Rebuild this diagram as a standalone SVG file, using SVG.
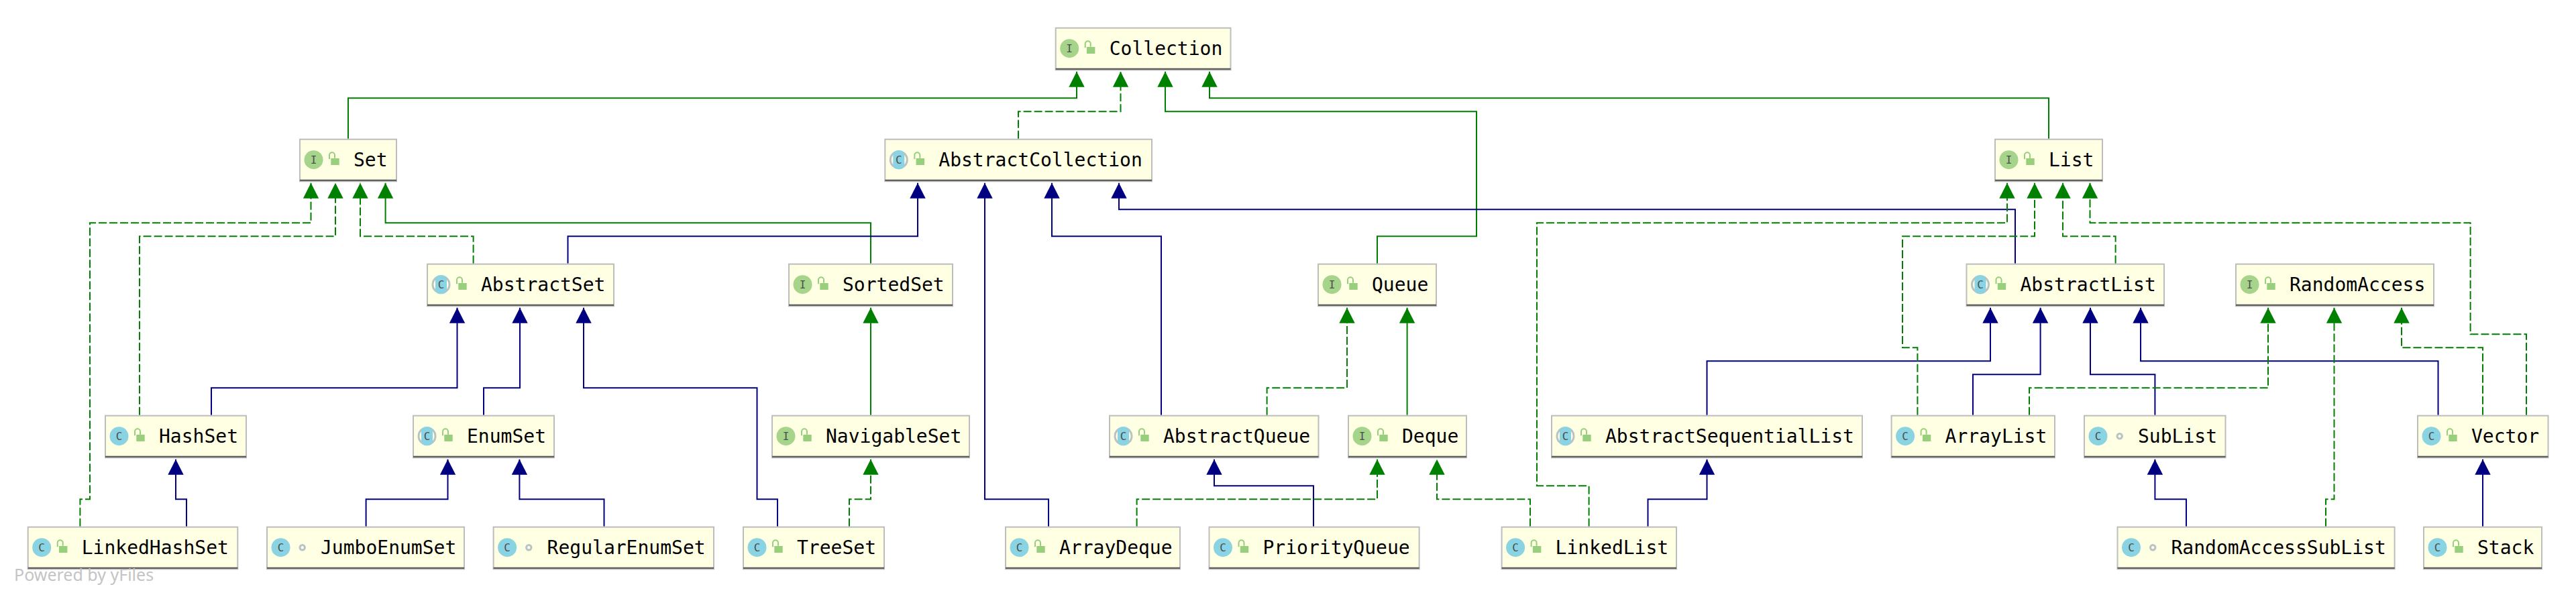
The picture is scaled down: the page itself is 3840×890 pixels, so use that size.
<svg xmlns="http://www.w3.org/2000/svg" width="3840" height="890" viewBox="0 0 3840 890">
<style>
.bg{fill:#fff}
.box{fill:#ffffe4;stroke:#bdbdbd;stroke-width:2}
.bar{fill:#5a5a5a}
.name{font:28px "DejaVu Sans Mono","Liberation Mono",monospace;fill:#000}
.ico{font:16px "DejaVu Sans Mono","Liberation Mono",monospace;fill:#4a4f52;text-anchor:middle}
.ci{fill:#a5d48a}
.cc{fill:#8ad3e3}
.ring{fill:#ffffe4;stroke:#b9c3c6;stroke-width:3}
.lock{fill:#97cf7d}
.shackle{fill:none;stroke:#97cf7d;stroke-width:2}
.dot{fill:none;stroke:#b9c3c6;stroke-width:3}
.edge{fill:none;stroke-width:2}
.g{stroke:#008000;marker-end:url(#ag)}
.gd{stroke:#008000;stroke-dasharray:12 4;marker-end:url(#ag)}
.b{stroke:#000080;marker-end:url(#ab)}
.wm{font:25px "Noto Sans","DejaVu Sans",sans-serif;fill:#c4c4c4}
</style>
<defs>
<marker id="ag" markerUnits="userSpaceOnUse" markerWidth="24" markerHeight="24" viewBox="0 0 24 24" refX="23" refY="12" orient="auto"><path d="M0,0.3L23,12L0,23.7z" fill="#008000"/></marker>
<marker id="ab" markerUnits="userSpaceOnUse" markerWidth="24" markerHeight="24" viewBox="0 0 24 24" refX="23" refY="12" orient="auto"><path d="M0,0.3L23,12L0,23.7z" fill="#000080"/></marker>
<g id="lk"><path class="shackle" d="M45,30.5V24.5a4,4 0 0 1 8,0V29"/><rect class="lock" x="47.3" y="29.3" width="12.4" height="10"/></g>
<circle id="pk" class="dot" cx="53.7" cy="31.5" r="3.7"/>
<circle id="ci" class="ci" cx="21.5" cy="31.5" r="14"/>
<circle id="cc" class="cc" cx="21.5" cy="31.5" r="14"/>
<g id="ca"><circle class="ring" cx="21.5" cy="31.5" r="12.5"/><rect class="cc" x="13" y="17.5" width="17" height="28" rx="7"/></g>
</defs>
<rect class="bg" width="3840" height="890"/>
<g id="connectors" class="edge">
<path class="edge g" d="M519,206.7V146.3H1605V106.8"/>
<path class="edge gd" d="M1518,206.7V166.3H1670.5V106.8"/>
<path class="edge g" d="M2053,392.7V352.3H2201V166.3H1737V106.8"/>
<path class="edge g" d="M3054,206.7V146.3H1803V106.8"/>
<path class="edge gd" d="M119.4,784.7V744.3H134V332.3H463.5V272.8"/>
<path class="edge gd" d="M208,618.7V352.3H500V272.8"/>
<path class="edge gd" d="M705.6,392.7V352.3H537V272.8"/>
<path class="edge g" d="M1298,392.7V332.3H574.6V272.8"/>
<path class="edge b" d="M846.5,392.7V352.3H1368V272.8"/>
<path class="edge b" d="M1563,784.7V744.3H1468V272.8"/>
<path class="edge b" d="M1731,618.7V352.3H1568V272.8"/>
<path class="edge b" d="M3004,392.7V312.3H1668V272.8"/>
<path class="edge g" d="M1298,618.7V458.8"/>
<path class="edge gd" d="M1266,784.7V744.3H1298V684.8"/>
<path class="edge b" d="M1159,784.7V744.3H1128.5V578.3H870V458.8"/>
<path class="edge b" d="M315,618.7V578.3H681.5V458.8"/>
<path class="edge b" d="M721,618.7V578.3H775V458.8"/>
<path class="edge b" d="M278,784.7V744.3H262V684.8"/>
<path class="edge b" d="M545.6,784.7V744.3H667.5V684.8"/>
<path class="edge b" d="M900.5,784.7V744.3H774.4V684.8"/>
<path class="edge gd" d="M1888.6,618.7V578.3H2008V458.8"/>
<path class="edge g" d="M2097.6,618.7V458.8"/>
<path class="edge b" d="M1958,784.7V724.3H1810V684.8"/>
<path class="edge gd" d="M1694.6,784.7V744.3H2053V684.8"/>
<path class="edge gd" d="M2281,784.7V744.3H2142V684.8"/>
<path class="edge gd" d="M2368.6,784.7V724.3H2291V332.3H2992V272.8"/>
<path class="edge b" d="M2456.5,784.7V744.3H2544.5V684.8"/>
<path class="edge b" d="M2544.5,618.7V538.3H2967V458.8"/>
<path class="edge gd" d="M2858.4,618.7V518.3H2836V352.3H3033V272.8"/>
<path class="edge gd" d="M3153.6,392.7V352.3H3075V272.8"/>
<path class="edge gd" d="M3766,618.7V498.3H3682.6V332.3H3115.5V272.8"/>
<path class="edge b" d="M2941,618.7V558.3H3041.6V458.8"/>
<path class="edge b" d="M3212.4,618.7V558.3H3116V458.8"/>
<path class="edge b" d="M3634.5,618.7V538.3H3191V458.8"/>
<path class="edge gd" d="M3025,618.7V578.3H3381V458.8"/>
<path class="edge gd" d="M3467,784.7V744.3H3479.5V458.8"/>
<path class="edge gd" d="M3701,618.7V518.3H3580V458.8"/>
<path class="edge b" d="M3259,784.7V744.3H3212.4V684.8"/>
<path class="edge b" d="M3701,784.7V684.8"/>
</g>
<g id="Collection" transform="translate(1572.7,40.7)"><rect class="box" x="1" y="1" width="260.8" height="62.6"/><rect class="bar" x="1" y="61" width="260.8" height="2.2"/><use href="#ci"/><text class="ico" x="21.5" y="37.5">I</text><use href="#lk"/><text class="name" x="81" y="41.6">Collection</text></g>
<g id="Set" transform="translate(446,206.7)"><rect class="box" x="1" y="1" width="144" height="62.6"/><rect class="bar" x="1" y="61" width="144" height="2.2"/><use href="#ci"/><text class="ico" x="21.5" y="37.5">I</text><use href="#lk"/><text class="name" x="81" y="41.6">Set</text></g>
<g id="AbstractCollection" transform="translate(1318.3,206.7)"><rect class="box" x="1" y="1" width="397.7" height="62.6"/><rect class="bar" x="1" y="61" width="397.7" height="2.2"/><use href="#ca"/><text class="ico" x="21.5" y="37.5">C</text><use href="#lk"/><text class="name" x="81" y="41.6">AbstractCollection</text></g>
<g id="List" transform="translate(2973,206.7)"><rect class="box" x="1" y="1" width="160" height="62.6"/><rect class="bar" x="1" y="61" width="160" height="2.2"/><use href="#ci"/><text class="ico" x="21.5" y="37.5">I</text><use href="#lk"/><text class="name" x="81" y="41.6">List</text></g>
<g id="AbstractSet" transform="translate(636,392.7)"><rect class="box" x="1" y="1" width="278" height="62.6"/><rect class="bar" x="1" y="61" width="278" height="2.2"/><use href="#ca"/><text class="ico" x="21.5" y="37.5">C</text><use href="#lk"/><text class="name" x="81" y="41.6">AbstractSet</text></g>
<g id="SortedSet" transform="translate(1175,392.7)"><rect class="box" x="1" y="1" width="244" height="62.6"/><rect class="bar" x="1" y="61" width="244" height="2.2"/><use href="#ci"/><text class="ico" x="21.5" y="37.5">I</text><use href="#lk"/><text class="name" x="81" y="41.6">SortedSet</text></g>
<g id="Queue" transform="translate(1964,392.7)"><rect class="box" x="1" y="1" width="176" height="62.6"/><rect class="bar" x="1" y="61" width="176" height="2.2"/><use href="#ci"/><text class="ico" x="21.5" y="37.5">I</text><use href="#lk"/><text class="name" x="81" y="41.6">Queue</text></g>
<g id="AbstractList" transform="translate(2930.5,392.7)"><rect class="box" x="1" y="1" width="294.5" height="62.6"/><rect class="bar" x="1" y="61" width="294.5" height="2.2"/><use href="#ca"/><text class="ico" x="21.5" y="37.5">C</text><use href="#lk"/><text class="name" x="81" y="41.6">AbstractList</text></g>
<g id="RandomAccess" transform="translate(3332,392.7)"><rect class="box" x="1" y="1" width="295" height="62.6"/><rect class="bar" x="1" y="61" width="295" height="2.2"/><use href="#ci"/><text class="ico" x="21.5" y="37.5">I</text><use href="#lk"/><text class="name" x="81" y="41.6">RandomAccess</text></g>
<g id="HashSet" transform="translate(156,618.7)"><rect class="box" x="1" y="1" width="210" height="62.6"/><rect class="bar" x="1" y="61" width="210" height="2.2"/><use href="#cc"/><text class="ico" x="21.5" y="37.5">C</text><use href="#lk"/><text class="name" x="81" y="41.6">HashSet</text></g>
<g id="EnumSet" transform="translate(615,618.7)"><rect class="box" x="1" y="1" width="210" height="62.6"/><rect class="bar" x="1" y="61" width="210" height="2.2"/><use href="#ca"/><text class="ico" x="21.5" y="37.5">C</text><use href="#lk"/><text class="name" x="81" y="41.6">EnumSet</text></g>
<g id="NavigableSet" transform="translate(1150,618.7)"><rect class="box" x="1" y="1" width="294" height="62.6"/><rect class="bar" x="1" y="61" width="294" height="2.2"/><use href="#ci"/><text class="ico" x="21.5" y="37.5">I</text><use href="#lk"/><text class="name" x="81" y="41.6">NavigableSet</text></g>
<g id="AbstractQueue" transform="translate(1653,618.7)"><rect class="box" x="1" y="1" width="311.5" height="62.6"/><rect class="bar" x="1" y="61" width="311.5" height="2.2"/><use href="#ca"/><text class="ico" x="21.5" y="37.5">C</text><use href="#lk"/><text class="name" x="81" y="41.6">AbstractQueue</text></g>
<g id="Deque" transform="translate(2009,618.7)"><rect class="box" x="1" y="1" width="176" height="62.6"/><rect class="bar" x="1" y="61" width="176" height="2.2"/><use href="#ci"/><text class="ico" x="21.5" y="37.5">I</text><use href="#lk"/><text class="name" x="81" y="41.6">Deque</text></g>
<g id="AbstractSequentialList" transform="translate(2312,618.7)"><rect class="box" x="1" y="1" width="463" height="62.6"/><rect class="bar" x="1" y="61" width="463" height="2.2"/><use href="#ca"/><text class="ico" x="21.5" y="37.5">C</text><use href="#lk"/><text class="name" x="81" y="41.6">AbstractSequentialList</text></g>
<g id="ArrayList" transform="translate(2818.6,618.7)"><rect class="box" x="1" y="1" width="243.4" height="62.6"/><rect class="bar" x="1" y="61" width="243.4" height="2.2"/><use href="#cc"/><text class="ico" x="21.5" y="37.5">C</text><use href="#lk"/><text class="name" x="81" y="41.6">ArrayList</text></g>
<g id="SubList" transform="translate(3106,618.7)"><rect class="box" x="1" y="1" width="210.5" height="62.6"/><rect class="bar" x="1" y="61" width="210.5" height="2.2"/><use href="#cc"/><text class="ico" x="21.5" y="37.5">C</text><use href="#pk"/><text class="name" x="81" y="41.6">SubList</text></g>
<g id="Vector" transform="translate(3603,618.7)"><rect class="box" x="1" y="1" width="194.5" height="62.6"/><rect class="bar" x="1" y="61" width="194.5" height="2.2"/><use href="#cc"/><text class="ico" x="21.5" y="37.5">C</text><use href="#lk"/><text class="name" x="81" y="41.6">Vector</text></g>
<g id="LinkedHashSet" transform="translate(40.7,784.7)"><rect class="box" x="1" y="1" width="312.6" height="62.6"/><rect class="bar" x="1" y="61" width="312.6" height="2.2"/><use href="#cc"/><text class="ico" x="21.5" y="37.5">C</text><use href="#lk"/><text class="name" x="81" y="41.6">LinkedHashSet</text></g>
<g id="JumboEnumSet" transform="translate(397,784.7)"><rect class="box" x="1" y="1" width="294" height="62.6"/><rect class="bar" x="1" y="61" width="294" height="2.2"/><use href="#cc"/><text class="ico" x="21.5" y="37.5">C</text><use href="#pk"/><text class="name" x="81" y="41.6">JumboEnumSet</text></g>
<g id="RegularEnumSet" transform="translate(734.6,784.7)"><rect class="box" x="1" y="1" width="328.4" height="62.6"/><rect class="bar" x="1" y="61" width="328.4" height="2.2"/><use href="#cc"/><text class="ico" x="21.5" y="37.5">C</text><use href="#pk"/><text class="name" x="81" y="41.6">RegularEnumSet</text></g>
<g id="TreeSet" transform="translate(1107,784.7)"><rect class="box" x="1" y="1" width="210" height="62.6"/><rect class="bar" x="1" y="61" width="210" height="2.2"/><use href="#cc"/><text class="ico" x="21.5" y="37.5">C</text><use href="#lk"/><text class="name" x="81" y="41.6">TreeSet</text></g>
<g id="ArrayDeque" transform="translate(1498,784.7)"><rect class="box" x="1" y="1" width="260" height="62.6"/><rect class="bar" x="1" y="61" width="260" height="2.2"/><use href="#cc"/><text class="ico" x="21.5" y="37.5">C</text><use href="#lk"/><text class="name" x="81" y="41.6">ArrayDeque</text></g>
<g id="PriorityQueue" transform="translate(1801.5,784.7)"><rect class="box" x="1" y="1" width="313.1" height="62.6"/><rect class="bar" x="1" y="61" width="313.1" height="2.2"/><use href="#cc"/><text class="ico" x="21.5" y="37.5">C</text><use href="#lk"/><text class="name" x="81" y="41.6">PriorityQueue</text></g>
<g id="LinkedList" transform="translate(2237.6,784.7)"><rect class="box" x="1" y="1" width="260.4" height="62.6"/><rect class="bar" x="1" y="61" width="260.4" height="2.2"/><use href="#cc"/><text class="ico" x="21.5" y="37.5">C</text><use href="#lk"/><text class="name" x="81" y="41.6">LinkedList</text></g>
<g id="RandomAccessSubList" transform="translate(3155.5,784.7)"><rect class="box" x="1" y="1" width="413.1" height="62.6"/><rect class="bar" x="1" y="61" width="413.1" height="2.2"/><use href="#cc"/><text class="ico" x="21.5" y="37.5">C</text><use href="#pk"/><text class="name" x="81" y="41.6">RandomAccessSubList</text></g>
<g id="Stack" transform="translate(3612,784.7)"><rect class="box" x="1" y="1" width="176" height="62.6"/><rect class="bar" x="1" y="61" width="176" height="2.2"/><use href="#cc"/><text class="ico" x="21.5" y="37.5">C</text><use href="#lk"/><text class="name" x="81" y="41.6">Stack</text></g>
<text class="wm" x="21" y="866">Powered by yFiles</text>
</svg>
